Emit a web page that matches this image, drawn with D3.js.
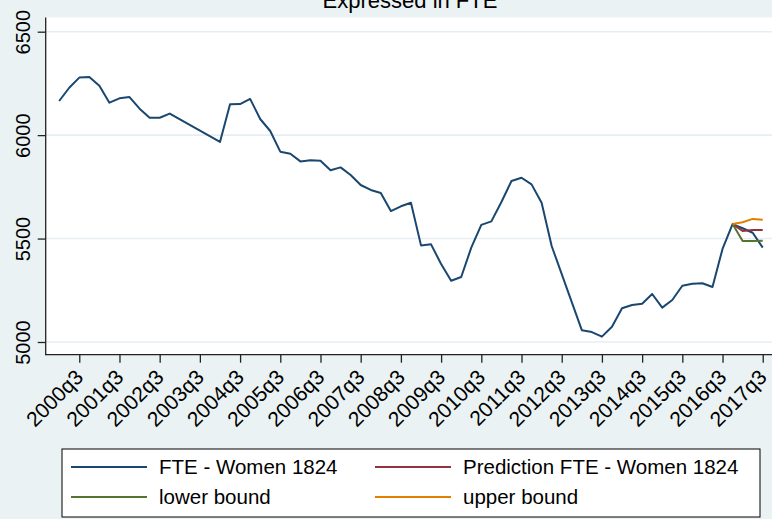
<!DOCTYPE html>
<html>
<head>
<meta charset="utf-8">
<script src="https://cdn.jsdelivr.net/npm/d3@7"></script>
<style>
    body { margin: 0; background: #eaf2f3; }
    svg { display: block; font-family: "Liberation Sans", Arial, sans-serif; }
</style>
</head>
<body>
<svg id="chart" width="772" height="519"></svg>
<script>
// quarterly series, 2000q1 .. 2017q3 (null = no observation, line runs across like Stata)
var fteWomen = [
    6165, 6229, 6278, 6281, 6239, 6157, 6178, 6184,
    6128, 6084, 6084, 6104, null, null, null, null,
    5967, 6149, 6150, 6175, 6078, 6020, 5920, 5910,
    5873, 5878, 5876, 5830, 5844, 5807, 5759, 5735,
    5720, 5633, 5656, 5673, 5467, 5472, 5377, 5296,
    5314, 5456, 5566, 5583, 5677, 5778, 5794, 5762,
    5673, 5464, null, null, 5057, 5048, 5026, 5074,
    5163, 5179, 5185, 5232, 5166, 5203, 5272, 5282,
    5284, 5266, 5450, 5570, 5550, 5528, 5456
];
// forecast runs 2016q4 .. 2017q3
var forecastQuarters = ["2016q4", "2017q1", "2017q2", "2017q3"];
var prediction = [5570, 5537, 5541, 5541];
var lowerBound = [5570, 5488, 5488, 5490];
var upperBound = [5570, 5579, 5595, 5591];

var yTicks = [5000, 5500, 6000, 6500];
var xTickLabels = ["2000q3", "2001q3", "2002q3", "2003q3", "2004q3", "2005q3",
    "2006q3", "2007q3", "2008q3", "2009q3", "2010q3", "2011q3", "2012q3",
    "2013q3", "2014q3", "2015q3", "2016q3", "2017q3"];

var seriesNames = ["FTE - Women 1824", "Prediction FTE - Women 1824", "lower bound", "upper bound"];
var seriesColors = ["#1a476f", "#90353b", "#55752f", "#e37e00"];

// "2003q2" -> quarters since 2000q1
function qIndex(label) {
    var y = +label.slice(0, 4), q = +label.slice(5);
    return (y - 2000) * 4 + (q - 1);
}

var svg = d3.select("#chart");
var plot = {left: 45.7, right: 776.2, top: 17.5, bottom: 354.7};

var x = d3.scaleLinear().domain([-1.34, 71.34]).range([plot.left, plot.right]);
var y = d3.scaleLinear().domain([4938.6, 6568.6]).range([plot.bottom, plot.top]);

// title (partly cut off at the top, as in the export)
svg.append("text")
    .attr("x", 410).attr("y", 8)
    .attr("text-anchor", "middle")
    .style("font-size", "22px")
    .attr("fill", "#000")
    .text("Expressed in FTE");

svg.append("rect")
    .attr("x", plot.left).attr("y", plot.top)
    .attr("width", plot.right - plot.left).attr("height", plot.bottom - plot.top)
    .attr("fill", "#fff");

// grid
svg.append("g").selectAll("line").data(yTicks).enter().append("line")
    .attr("x1", plot.left).attr("x2", plot.right)
    .attr("y1", function (d) { return y(d); })
    .attr("y2", function (d) { return y(d); })
    .attr("stroke", "#e6eef2").attr("stroke-width", 1.6);

// y axis
var yAxis = svg.append("g")
    .attr("transform", "translate(" + plot.left + ",0)")
    .call(d3.axisLeft(y).tickValues(yTicks).tickSize(8).tickFormat(d3.format("d")));
yAxis.select(".domain").remove();
yAxis.selectAll(".tick line").attr("stroke", "#222").attr("stroke-width", 1.3);
yAxis.selectAll(".tick text")
    .attr("x", null).attr("dy", null)
    .attr("transform", "translate(-15.7,0) rotate(-90)")
    .attr("text-anchor", "middle")
    .style("font-size", "20px").attr("fill", "#000");

// x axis
var xAxis = svg.append("g")
    .attr("transform", "translate(0," + plot.bottom + ")")
    .call(d3.axisBottom(x).tickValues(xTickLabels.map(qIndex)).tickSize(8)
        .tickFormat(function (d, i) { return xTickLabels[i]; }));
xAxis.select(".domain").remove();
xAxis.selectAll(".tick line").attr("stroke", "#222").attr("stroke-width", 1.3);
xAxis.selectAll(".tick text")
    .attr("y", null).attr("dy", null)
    .attr("transform", "translate(4.8,23.8) rotate(-45)")
    .attr("text-anchor", "end")
    .style("font-size", "21px").attr("fill", "#000");

svg.append("line")
    .attr("x1", plot.left).attr("x2", plot.left)
    .attr("y1", plot.top).attr("y2", plot.bottom + 0.6)
    .attr("stroke", "#222").attr("stroke-width", 1.3);
svg.append("line")
    .attr("x1", plot.left).attr("x2", plot.right)
    .attr("y1", plot.bottom).attr("y2", plot.bottom)
    .attr("stroke", "#222").attr("stroke-width", 1.3);

var line = d3.line()
    .x(function (d) { return x(d.t); })
    .y(function (d) { return y(d.v); });

var mainPts = fteWomen.map(function (v, i) { return {t: i, v: v}; })
    .filter(function (d) { return d.v !== null; });

function fcPts(vals) {
    return vals.map(function (v, i) { return {t: qIndex(forecastQuarters[i]), v: v}; });
}

var allSeries = [mainPts, fcPts(prediction), fcPts(lowerBound), fcPts(upperBound)];
svg.append("g").selectAll("path").data(allSeries).enter().append("path")
    .attr("d", line)
    .attr("fill", "none")
    .attr("stroke", function (d, i) { return seriesColors[i]; })
    .attr("stroke-width", 2)
    .attr("stroke-linejoin", "round");

// legend
var legend = svg.append("g");
legend.append("rect")
    .attr("x", 62).attr("y", 449).attr("width", 698).attr("height", 68)
    .attr("fill", "#fff").attr("stroke", "#000").attr("stroke-width", 1);

var items = legend.selectAll("g.item").data(seriesNames).enter().append("g")
    .attr("class", "item")
    .attr("transform", function (d, i) {
        return "translate(" + (i % 2 === 0 ? 71 : 375) + "," + (i < 2 ? 467 : 497) + ")";
    });
items.append("line")
    .attr("x1", 0).attr("x2", 76).attr("y1", 0).attr("y2", 0)
    .attr("stroke", function (d, i) { return seriesColors[i]; })
    .attr("stroke-width", 2);
items.append("text")
    .attr("x", 88).attr("y", 7.4)
    .style("font-size", "20.5px")
    .attr("fill", "#000")
    .text(function (d) { return d; });
</script>
</body>
</html>
